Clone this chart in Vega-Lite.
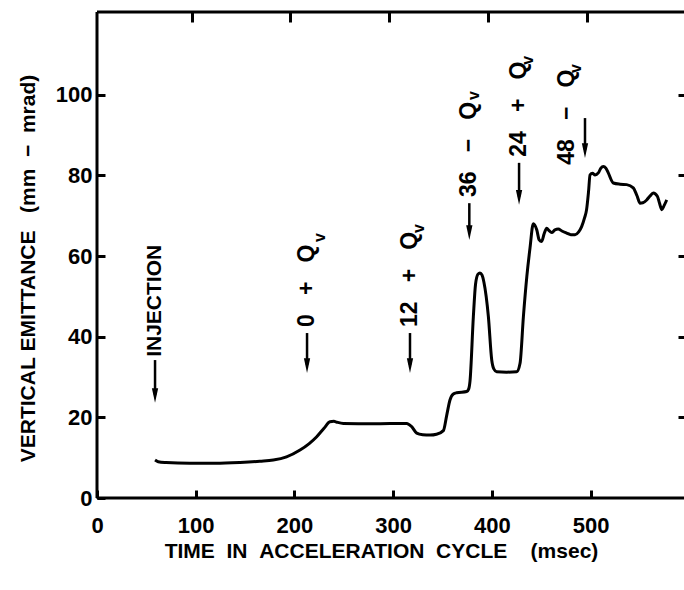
{
  "$schema": "https://vega.github.io/schema/vega-lite/v6.json",
  "width": 587,
  "height": 486,
  "autosize": {"type": "none"},
  "padding": {"left": 97, "top": 12, "right": 0, "bottom": 92},
  "background": "white",
  "config": {
    "view": {"stroke": null},
    "axis": {"domainColor": "black", "tickColor": "black", "labelColor": "black", "titleColor": "black", "grid": false, "labelFont": "Liberation Sans", "titleFont": "Liberation Sans"}
  },
  "datasets": {
    "curve": [
      {"t": 58.8, "v": 9.4}, {"t": 62, "v": 9.0}, {"t": 70, "v": 8.8}, {"t": 94, "v": 8.6}, {"t": 120, "v": 8.6},
      {"t": 145, "v": 8.8}, {"t": 165, "v": 9.1}, {"t": 178.6, "v": 9.4}, {"t": 192, "v": 10.2}, {"t": 205.7, "v": 11.9},
      {"t": 215, "v": 13.5}, {"t": 222.6, "v": 15.2}, {"t": 230, "v": 17.3}, {"t": 236, "v": 18.9}, {"t": 240, "v": 19.0},
      {"t": 243, "v": 18.8}, {"t": 249.6, "v": 18.5}, {"t": 280, "v": 18.4}, {"t": 313.8, "v": 18.5}, {"t": 318.8, "v": 17.7},
      {"t": 323.9, "v": 16.1}, {"t": 330, "v": 15.7}, {"t": 337.4, "v": 15.6}, {"t": 344, "v": 15.8}, {"t": 350.9, "v": 16.7},
      {"t": 354.3, "v": 20.5}, {"t": 357.6, "v": 24.3}, {"t": 361, "v": 25.8}, {"t": 364.4, "v": 26.1}, {"t": 374.6, "v": 26.4},
      {"t": 376.5, "v": 27}, {"t": 377.9, "v": 29}, {"t": 381.3, "v": 45}, {"t": 383.5, "v": 53}, {"t": 386, "v": 55.5},
      {"t": 388, "v": 55.8}, {"t": 390, "v": 55.3}, {"t": 392, "v": 53.5}, {"t": 396.5, "v": 45}, {"t": 399.9, "v": 34.2},
      {"t": 402, "v": 32}, {"t": 404.9, "v": 31.3}, {"t": 415, "v": 31.2}, {"t": 425.2, "v": 31.3}, {"t": 428.6, "v": 33.4},
      {"t": 432, "v": 45}, {"t": 435.5, "v": 55}, {"t": 438.7, "v": 62}, {"t": 442, "v": 68.0}, {"t": 445.5, "v": 66.5},
      {"t": 448, "v": 64}, {"t": 450.5, "v": 63.6}, {"t": 453, "v": 65.5}, {"t": 455.6, "v": 66.9}, {"t": 458, "v": 66.3},
      {"t": 460.6, "v": 65.8}, {"t": 464, "v": 66.5}, {"t": 467.3, "v": 66.7}, {"t": 471, "v": 66.2}, {"t": 475.8, "v": 65.7},
      {"t": 480, "v": 65.3}, {"t": 484.3, "v": 65.3}, {"t": 488, "v": 66}, {"t": 491, "v": 67.3}, {"t": 494, "v": 69.5},
      {"t": 496, "v": 71.5}, {"t": 498, "v": 76}, {"t": 499.5, "v": 80.1}, {"t": 502, "v": 80.5}, {"t": 504.6, "v": 80.1},
      {"t": 507.9, "v": 80.6}, {"t": 510.5, "v": 81.8}, {"t": 513, "v": 82.2}, {"t": 515.5, "v": 81.8}, {"t": 518, "v": 80.6},
      {"t": 523.1, "v": 78.1}, {"t": 530, "v": 77.8}, {"t": 536.6, "v": 77.7}, {"t": 543.3, "v": 76.9}, {"t": 547, "v": 75},
      {"t": 550.2, "v": 73.1}, {"t": 553, "v": 73.2}, {"t": 556.9, "v": 73.9}, {"t": 560, "v": 74.8}, {"t": 563.6, "v": 75.6},
      {"t": 567.7, "v": 74.8}, {"t": 570, "v": 73}, {"t": 572.1, "v": 71.5}, {"t": 574.5, "v": 72.5}, {"t": 577.2, "v": 73.9}
    ],
    "labels": [
      {"t": 212.8, "v": 42.4, "label": "0\u00a0\u00a0\u00a0+\u00a0\u00a0\u00a0Q"},
      {"t": 317.1, "v": 42.4, "label": "12\u00a0\u00a0\u00a0+\u00a0\u00a0\u00a0Q"},
      {"t": 377.0, "v": 74.6, "label": "36\u00a0\u00a0\u00a0−\u00a0\u00a0\u00a0Q"},
      {"t": 427.6, "v": 84.6, "label": "24\u00a0\u00a0\u00a0+\u00a0\u00a0\u00a0Q"},
      {"t": 476.2, "v": 82.6, "label": "48\u00a0\u00a0\u00a0−\u00a0\u00a0\u00a0Q"}
    ],
    "inj": [
      {"t": 58.8, "v": 35.0, "label": "INJECTION"}
    ],
    "subs": [
      {"t": 225.9, "v": 63.5, "s": "v"},
      {"t": 326.2, "v": 65.7, "s": "v"},
      {"t": 382.0, "v": 98.7, "s": "v"},
      {"t": 436.7, "v": 107.4, "s": "v"},
      {"t": 485.3, "v": 105.4, "s": "v"}
    ],
    "arrows": [
      {"t": 58.8, "v": 34.2, "v2": 25.5},
      {"t": 212.8, "v": 40.9, "v2": 33.0},
      {"t": 317.1, "v": 40.9, "v2": 33.0},
      {"t": 377.2, "v": 73.1, "v2": 66.0},
      {"t": 427.6, "v": 83.1, "v2": 74.7},
      {"t": 494.4, "v": 94.2, "v2": 86.3}
    ],
    "heads": [
      {"t": 58.8, "v": 23.6},
      {"t": 212.8, "v": 31.0},
      {"t": 317.1, "v": 31.0},
      {"t": 377.2, "v": 64.0},
      {"t": 427.6, "v": 72.7},
      {"t": 494.4, "v": 84.3}
    ],
    "frame": [
      {"t0": 0, "vb": 0, "vt": 120.5}
    ]
  },
  "layer": [
    {
      "encoding": {
        "x": {
          "field": "t", "type": "quantitative",
          "scale": {"domain": [0, 594.7], "nice": false, "zero": false},
          "axis": {
            "orient": "bottom", "values": [0, 100, 200, 300, 400, 500],
            "title": "TIME\u00a0\u00a0IN\u00a0\u00a0ACCELERATION\u00a0\u00a0CYCLE\u00a0\u00a0\u00a0\u00a0(msec)",
            "offset": -8, "domain": false, "ticks": true,
            "tickSize": 8, "tickWidth": 3,
            "labelFontSize": 22, "labelFontWeight": "bold", "labelPadding": 17, "labelFlush": false, "labelOverlap": false,
            "titleFontSize": 21, "titleFontWeight": "bold", "titlePadding": 4, "titleX": 284
          }
        },
        "y": {
          "field": "v", "type": "quantitative",
          "scale": {"domain": [0, 120.5], "nice": false, "zero": false},
          "axis": {
            "orient": "left", "values": [0, 20, 40, 60, 80, 100],
            "title": "VERTICAL\u00a0EMITTANCE\u00a0\u00a0\u00a0(mm\u00a0\u00a0−\u00a0\u00a0mrad)",
            "offset": -8, "domain": false, "ticks": true,
            "tickSize": 8, "tickWidth": 3,
            "labelFontSize": 22, "labelFontWeight": "bold", "labelPadding": 5, "labelFlush": false, "labelOverlap": false,
            "titleFontSize": 21, "titleFontWeight": "bold", "titlePadding": 17, "titleY": 256
          }
        }
      },
      "layer": [
        {"data": {"name": "curve"}, "mark": {"type": "line", "color": "black", "strokeWidth": 3, "interpolate": "monotone"}},
        {"data": {"name": "arrows"}, "mark": {"type": "rule", "color": "black", "strokeWidth": 2.5}, "encoding": {"y2": {"field": "v2"}}},
        {"data": {"name": "heads"}, "mark": {"type": "point", "shape": "M-0.6,-2.8L0.6,-2.8L0,0Z", "size": 110, "filled": true, "color": "black", "opacity": 1, "strokeWidth": 0}},
        {"data": {"name": "labels"}, "mark": {"type": "text", "angle": 270, "align": "left", "baseline": "middle", "font": "Liberation Sans", "fontSize": 23, "fontWeight": "bold", "color": "black"}, "encoding": {"text": {"field": "label"}}},
        {"data": {"name": "inj"}, "mark": {"type": "text", "angle": 270, "align": "left", "baseline": "middle", "font": "Liberation Sans", "fontSize": 21, "fontWeight": "bold", "color": "black"}, "encoding": {"text": {"field": "label"}}},
        {"data": {"name": "subs"}, "mark": {"type": "text", "angle": 270, "align": "left", "baseline": "middle", "font": "Liberation Sans", "fontSize": 16, "fontWeight": "bold", "color": "black"}, "encoding": {"text": {"field": "s"}}}
      ]
    },
    {
      "data": {"name": "curve"},
      "mark": {"type": "point", "opacity": 0},
      "encoding": {
        "x": {
          "field": "t", "type": "quantitative",
          "scale": {"domain": [0, 594.7], "nice": false, "zero": false},
          "axis": {"orient": "top", "values": [100, 200, 300, 400, 500], "labels": false, "title": null, "domain": false, "ticks": true, "offset": -10, "tickSize": 10, "tickWidth": 3, "tickOffset": -4}
        },
        "y": {
          "field": "v", "type": "quantitative",
          "scale": {"domain": [0, 120.5], "nice": false, "zero": false},
          "axis": {"orient": "right", "values": [20, 40, 60, 80, 100], "labels": false, "title": null, "domain": false, "ticks": true, "offset": -6, "tickSize": 6, "tickWidth": 3}
        }
      }
    },
    {
      "data": {"name": "frame"},
      "mark": {"type": "rule", "color": "black", "strokeWidth": 3},
      "encoding": {"y": {"field": "vb", "type": "quantitative", "axis": null}}
    },
    {
      "data": {"name": "frame"},
      "mark": {"type": "rule", "color": "black", "strokeWidth": 3},
      "encoding": {"y": {"field": "vt", "type": "quantitative", "axis": null}}
    },
    {
      "data": {"name": "frame"},
      "mark": {"type": "rule", "color": "black", "strokeWidth": 3},
      "encoding": {"x": {"field": "t0", "type": "quantitative", "axis": null}}
    }
  ],
  "resolve": {"axis": {"x": "independent", "y": "independent"}}
}
